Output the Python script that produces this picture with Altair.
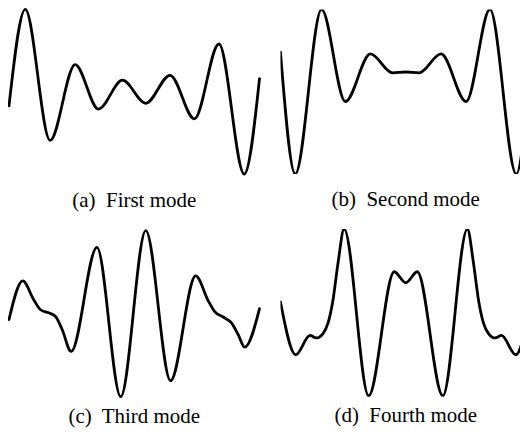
import altair as alt
import pandas as pd

# Mode shapes: x = position along the span (0-100), y = normalised displacement
a_x = [0, 6.5, 16.4, 26.4, 35.7, 45.3, 54.6, 64.3, 74.0, 83.8, 93.9, 100]
a_y = [-0.17, 1.0, -0.59, 0.33, -0.21, 0.14, -0.14, 0.20, -0.33, 0.58, -1.0, 0.16]

b_x = [0, 5.9, 16.4, 25.9, 35.9, 44.7, 50, 55.3, 64.1, 74.1, 83.6, 94.1, 100]
b_y = [0.48, -1.0, 1.0, -0.12, 0.46, 0.23, 0.24, 0.23, 0.46, -0.12, 1.0, -1.0, 0.48]

c_x = [0, 5.5, 9.8, 12.5, 15.8, 18.5, 21.1, 24.8, 35.1, 44.6, 54.6, 64.5, 74.5,
       79.6, 82.2, 85.5, 88.8, 91.5, 94.1, 100]
c_y = [-0.08, 0.38, 0.16, 0.04, 0.0, -0.04, -0.19, -0.46, 0.78, -1.0, 0.98, -0.81, 0.44,
       0.14, 0.01, -0.05, -0.12, -0.26, -0.41, 0.05]

d_x = [0, 6.1, 11.8, 14.3, 16.9, 19.0, 21.0, 23.0, 25.4, 35.2, 45.4, 50, 54.6, 64.8,
       74.6, 77.0, 79.0, 81.0, 83.1, 85.7, 88.2, 93.9, 100]
d_y = [0.13, -0.5, -0.27, -0.30, -0.25, -0.12, 0.16, 0.60, 1.0, -0.99, 0.49, 0.36, 0.49, -0.99,
       1.0, 0.60, 0.16, -0.12, -0.25, -0.30, -0.27, -0.5, 0.13]

captions = ["(a)\u00a0 First mode", "(b)\u00a0 Second mode",
            "(c)\u00a0 Third mode", "(d)\u00a0 Fourth mode"]

# the right-hand panels run off the right edge of the picture
RIGHT_VISIBLE = 95.6


def panel(xs, ys, caption, w, h, x_max, offset, dx, clip):
    df = pd.DataFrame({"x": xs, "y": ys})
    return (
        alt.Chart(df)
        .mark_line(color="black", strokeWidth=2.8, interpolate="monotone",
                   strokeCap="round", strokeJoin="round", clip=clip)
        .encode(
            x=alt.X("x:Q", axis=None,
                    scale=alt.Scale(domain=[0, x_max], nice=False, zero=False)),
            y=alt.Y("y:Q", axis=None,
                    scale=alt.Scale(domain=[-1, 1], nice=False, zero=False)),
        )
        .properties(
            width=w,
            height=h,
            title=alt.Title(caption, orient="bottom", offset=offset, baseline="alphabetic",
                            font="Liberation Serif", fontSize=21, fontWeight="normal",
                            color="black", anchor="middle", dx=dx),
        )
    )


chart = alt.concat(
    panel(a_x, a_y, captions[0], 251, 165, 100, 32, 0, False),
    panel(b_x, b_y, captions[1], 240, 165, RIGHT_VISIBLE, 32, 5.5, True),
    panel(c_x, c_y, captions[2], 251, 168, 100, 25, 0, False),
    panel(d_x, d_y, captions[3], 240, 168, RIGHT_VISIBLE, 25, 5.5, True),
    columns=2,
    spacing={"row": 55, "column": 21},
    bounds="flush",
).properties(
    padding={"left": -1, "top": -1, "right": 0, "bottom": 0},
    background="white",
).configure_view(stroke="transparent", strokeWidth=0)

chart.save("out.html", embed_options={"renderer": "svg", "actions": False})
